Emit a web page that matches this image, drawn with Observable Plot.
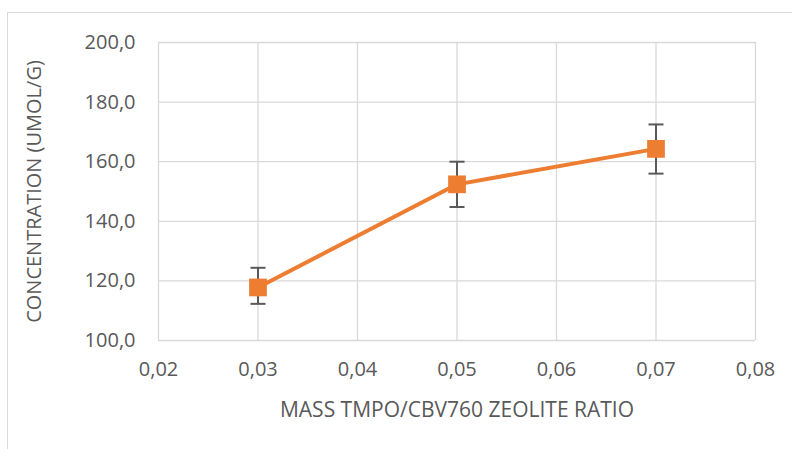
<!DOCTYPE html>
<html>
<head>
<meta charset="utf-8">
<script src="https://cdn.jsdelivr.net/npm/d3@7"></script>
<script src="https://cdn.jsdelivr.net/npm/@observablehq/plot@0.6"></script>
<style>
  html, body { margin: 0; padding: 0; background: #fff; }
  #wrap { position: relative; width: 792px; height: 449px; overflow: hidden; }
  #frame { position: absolute; left: 7px; top: 12px; width: 820px; height: 460px;
           border: 1px solid #d9d9d9; box-sizing: border-box; }
  #chart { position: absolute; left: 0; top: 0; }
</style>
</head>
<body>
<div id="wrap">
  <div id="frame"></div>
  <div id="chart"></div>
</div>
<script>
// Mass ratio of TMPO to CBV760 zeolite and the measured concentration
const ratios = [0.03, 0.05, 0.07];
const concentration = [117.8, 152.4, 164.3];
const errLow = [112.3, 144.8, 156.0];
const errHigh = [124.4, 160.0, 172.5];

const xTicks = [0.02, 0.03, 0.04, 0.05, 0.06, 0.07, 0.08];
const yTicks = [100, 120, 140, 160, 180, 200];

const xTitle = "MASS TMPO/CBV760 ZEOLITE RATIO";
const yTitle = "CONCENTRATION (UMOL/G)";

const data = ratios.map((r, i) => ({
  ratio: r, value: concentration[i], lo: errLow[i], hi: errHigh[i]
}));

const comma = (d, digits) => d.toFixed(digits).replace(".", ",");

// horizontal cap drawn at the ends of each error bar
const capSymbol = {
  draw(context, size) {
    const w = Math.sqrt(size) / 2;
    context.moveTo(-w, 0);
    context.lineTo(w, 0);
  }
};

const orange = "#ED7D31";
const barGray = "#595959";
const textGray = "#595959";
const gridGray = "#d9d9d9";

const chart = Plot.plot({
  width: 792,
  height: 449,
  marginLeft: 158,
  marginRight: 37,
  marginTop: 42,
  marginBottom: 109,
  style: { fontFamily: "'Open Sans', sans-serif", fontSize: "20px", color: textGray, background: "transparent" },
  x: { domain: [0.02, 0.08], label: null },
  y: { domain: [100, 200], label: null },
  marks: [
    Plot.gridX(xTicks, { stroke: gridGray, strokeOpacity: 1, strokeWidth: 1.3 }),
    Plot.gridY(yTicks, { stroke: gridGray, strokeOpacity: 1, strokeWidth: 1.3 }),
    Plot.axisX({ ticks: xTicks, tickFormat: d => comma(d, 2), tickSize: 0, tickPadding: 21, label: null, fill: textGray, fontSize: 20 }),
    Plot.axisY({ ticks: yTicks, tickFormat: d => comma(d, 1), tickSize: 0, tickPadding: 23, label: null, fill: textGray, fontSize: 20 }),
    Plot.line(data, { x: "ratio", y: "value", stroke: orange, strokeWidth: 4 }),
    Plot.ruleX(data, { x: "ratio", y1: "lo", y2: "hi", stroke: barGray, strokeWidth: 2 }),
    Plot.dot(data, { x: "ratio", y: "lo", symbol: capSymbol, r: 8.5, stroke: barGray, strokeWidth: 2 }),
    Plot.dot(data, { x: "ratio", y: "hi", symbol: capSymbol, r: 8.5, stroke: barGray, strokeWidth: 2 }),
    Plot.dot(data, { x: "ratio", y: "value", symbol: "square", r: 10, fill: orange, stroke: null }),
    Plot.text([xTitle], { frameAnchor: "bottom", textAnchor: "middle", lineAnchor: "middle", dy: 70, fontSize: 21, fill: textGray }),
    Plot.text([yTitle], { frameAnchor: "left", textAnchor: "middle", lineAnchor: "middle", dx: -124, rotate: -90, fontSize: 20, fill: textGray })
  ]
});

document.getElementById("chart").appendChild(chart);
</script>
</body>
</html>
